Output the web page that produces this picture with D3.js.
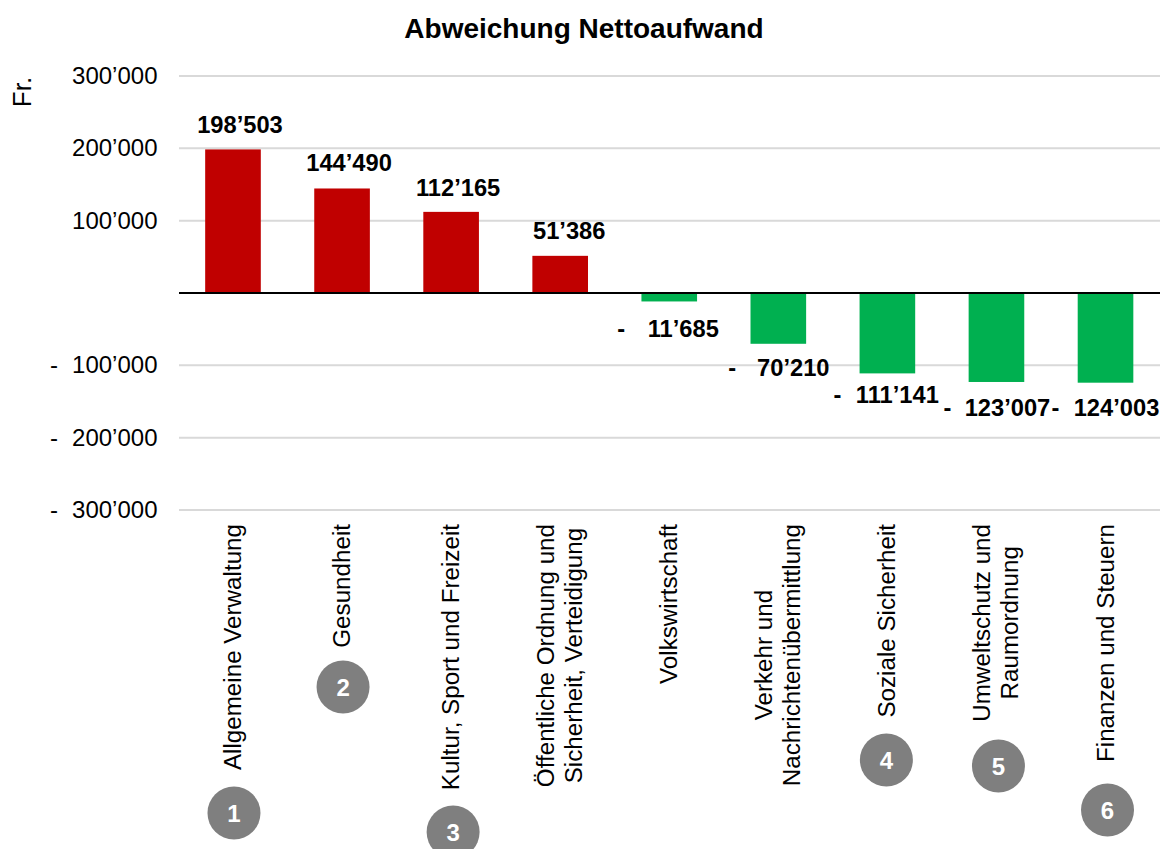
<!DOCTYPE html>
<html>
<head>
<meta charset="utf-8">
<script src="https://cdn.jsdelivr.net/npm/d3@7"></script>
<style>
body{margin:0;background:#fff}
text{font-family:"Liberation Sans",Arial,sans-serif;fill:#000}
</style>
</head>
<body>
<div id="chart"></div>
<script>
var categories = [
    ["Allgemeine Verwaltung"],
    ["Gesundheit"],
    ["Kultur, Sport und Freizeit"],
    ["Öffentliche Ordnung und", "Sicherheit, Verteidigung"],
    ["Volkswirtschaft"],
    ["Verkehr und", "Nachrichtenübermittlung"],
    ["Soziale Sicherheit"],
    ["Umweltschutz und", "Raumordnung"],
    ["Finanzen und Steuern"]
];
var values = [198503, 144490, 112165, 51386, -11685, -70210, -111141, -123007, -124003];
var ticks = [300000, 200000, 100000, -100000, -200000, -300000];
var badges = [1, 2, 3, 4, 5, 6];
var badgeCat = [0, 1, 2, 6, 7, 8];

var w = 1161, h = 849;
var left = 179, right = 1160;

// hand placement of the annotations, the source chart has them dragged around
var labelDx = [7, 7, 7, 9, 14, 15, 10, 11, 11];
var labelDy = [-16, -17, -16, -17, 36, 32, 30, 34, 33];
var minusDx = [-48, -46, -50, -49, -50];
var badgeDx = [1, 1, 2, -1, 2, 2];
var badgeY = [813, 687, 832, 760, 766, 810];

function fmt(v){
    return d3.format(",")(Math.abs(v)).replace(/,/g, "’");
}

var y = d3.scaleLinear().domain([300000, -300000]).range([76, 510]);
var x = d3.scaleBand().domain(d3.range(values.length)).range([left, 1159.5]).paddingInner(0.49).paddingOuter(0.24);

var svg = d3.select("#chart").append("svg").attr("width", w).attr("height", h).style("display", "block");

svg.append("text").attr("x", 584).attr("y", 38).attr("text-anchor", "middle")
    .attr("font-size", 28).attr("font-weight", "bold").text("Abweichung Nettoaufwand");

svg.append("text").attr("transform", "translate(31,92) rotate(-90)").attr("text-anchor", "middle")
    .attr("font-size", 26).text("Fr.");

// gridlines
svg.selectAll("line.grid").data(ticks).enter().append("line")
    .attr("class", "grid").attr("x1", left).attr("x2", right)
    .attr("y1", function(d){ return y(d); }).attr("y2", function(d){ return y(d); })
    .attr("stroke", "#d9d9d9").attr("stroke-width", 2);

// y tick labels
svg.selectAll("text.tick").data(ticks).enter().append("text")
    .attr("class", "tick").attr("x", 157.5).attr("text-anchor", "end")
    .attr("y", function(d){ return y(d) + 8; })
    .attr("font-size", 24).text(function(d){ return fmt(d); });
svg.selectAll("text.minus").data(ticks.filter(function(d){ return d < 0; })).enter().append("text")
    .attr("class", "minus").attr("x", 50)
    .attr("y", function(d){ return y(d) + 8; })
    .attr("font-size", 24).text("-");

// bars
svg.selectAll("rect.bar").data(values).enter().append("rect")
    .attr("class", "bar")
    .attr("x", function(d, i){ return x(i); })
    .attr("width", x.bandwidth())
    .attr("y", function(d){ return d > 0 ? y(d) : y(0); })
    .attr("height", function(d){ return Math.abs(y(d) - y(0)); })
    .attr("fill", function(d){ return d > 0 ? "#c00000" : "#00b050"; });

svg.append("line").attr("x1", left).attr("x2", right).attr("y1", y(0)).attr("y2", y(0))
    .attr("stroke", "#000").attr("stroke-width", 2);

// value labels
svg.selectAll("text.val").data(values).enter().append("text")
    .attr("class", "val").attr("font-size", 23.7).attr("font-weight", "bold").attr("text-anchor", "middle")
    .attr("x", function(d, i){ return x(i) + x.bandwidth() / 2 + labelDx[i]; })
    .attr("y", function(d, i){ return y(d) + labelDy[i]; })
    .text(function(d){ return fmt(d); });
svg.selectAll("text.valminus").data(values.filter(function(d){ return d < 0; })).enter().append("text")
    .attr("class", "valminus").attr("font-size", 23.7).attr("font-weight", "bold").attr("text-anchor", "middle")
    .attr("x", function(d, i){ return x(i + 4) + x.bandwidth() / 2 + minusDx[i]; })
    .attr("y", function(d, i){ return y(d) + labelDy[i + 4]; })
    .text("-");

// rotated category labels, lines centred on the longest one
var cat = svg.selectAll("g.cat").data(categories).enter().append("g")
    .attr("class", "cat")
    .attr("transform", function(d, i){ return "translate(" + (x(i) + x.bandwidth() / 2) + ",524) rotate(-90)"; });
var catText = cat.selectAll("text").data(function(d){
        return d.map(function(t, j){ return {t: t, j: j, n: d.length}; });
    }).enter().append("text")
    .attr("text-anchor", "middle")
    .attr("font-size", 24.2)
    .attr("y", function(d){ return (d.j - (d.n - 1) / 2) * 28 + 8; })
    .text(function(d){ return d.t; });
cat.each(function(){
    var texts = d3.select(this).selectAll("text");
    var longest = d3.max(texts.nodes(), function(n){ return n.getComputedTextLength(); });
    texts.attr("x", -longest / 2);
});

// numbered badges
var b = svg.selectAll("g.badge").data(badges).enter().append("g")
    .attr("class", "badge")
    .attr("transform", function(d, i){ return "translate(" + (x(badgeCat[i]) + x.bandwidth() / 2 + badgeDx[i]) + "," + badgeY[i] + ")"; });
b.append("circle").attr("r", 26.5).attr("fill", "#7f7f7f");
b.append("text").attr("text-anchor", "middle").attr("y", 9).attr("font-size", 24)
    .attr("font-weight", "bold").style("fill", "#fff").text(function(d){ return d; });
</script>
</body>
</html>
